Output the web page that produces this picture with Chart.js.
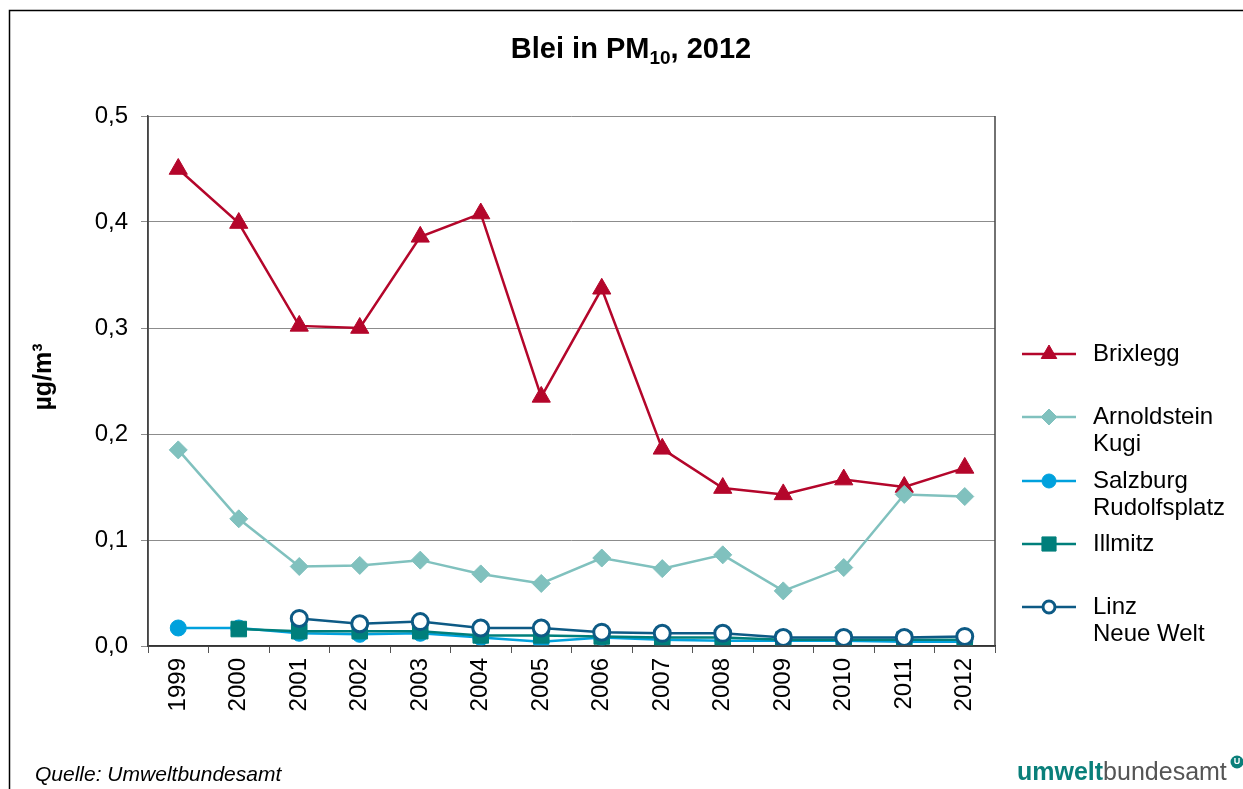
<!DOCTYPE html>
<html lang="de">
<head>
<meta charset="UTF-8">
<title>Blei in PM10, 2012</title>
<style>
  html, body { margin: 0; padding: 0; background: #fff; }
  #wrap { width: 1243px; height: 789px; }
</style>
</head>
<body>
<div id="wrap"><canvas id="chart" width="1243" height="789"></canvas></div>
<script src="https://cdn.jsdelivr.net/npm/chart.js"></script>
<script>
const years = ['1999','2000','2001','2002','2003','2004','2005','2006','2007','2008','2009','2010','2011','2012'];
const brixlegg   = [0.450, 0.399, 0.302, 0.300, 0.386, 0.408, 0.235, 0.337, 0.186, 0.149, 0.143, 0.157, 0.150, 0.168];
const arnoldstein = [0.185, 0.120, 0.075, 0.076, 0.081, 0.068, 0.059, 0.083, 0.073, 0.086, 0.052, 0.074, 0.143, 0.141];
const salzburg   = [0.017, 0.017, 0.012, 0.011, 0.012, 0.008, 0.004, 0.008, 0.006, 0.005, 0.005, 0.005, 0.004, 0.004];
const illmitz    = [null, 0.016, 0.014, 0.014, 0.014, 0.010, 0.010, 0.009, 0.008, 0.008, 0.006, 0.006, 0.006, 0.006];
const linz       = [null, null, 0.026, 0.021, 0.023, 0.017, 0.017, 0.013, 0.012, 0.012, 0.008, 0.008, 0.008, 0.009];
const yTicks = [0, 0.1, 0.2, 0.3, 0.4, 0.5];

const FONT = '"Liberation Sans", Arial, sans-serif';

const series = [
  { label: 'Brixlegg', lines: ['Brixlegg'], data: brixlegg, color: '#b4062b', style: 'triangle', r: 10.5, lr: 9, fill: '#b4062b' },
  { label: 'Arnoldstein Kugi', lines: ['Arnoldstein', 'Kugi'], data: arnoldstein, color: '#80c1be', style: 'rectRot', r: 9, lr: 8, fill: '#80c1be' },
  { label: 'Salzburg Rudolfsplatz', lines: ['Salzburg', 'Rudolfsplatz'], data: salzburg, color: '#00a1dd', style: 'circle', r: 8, lr: 7, fill: '#00a1dd' },
  { label: 'Illmitz', lines: ['Illmitz'], data: illmitz, color: '#007f7b', style: 'rect', r: 11, lr: 10, fill: '#007f7b' },
  { label: 'Linz Neue Welt', lines: ['Linz', 'Neue Welt'], data: linz, color: '#0d5a85', style: 'circle', r: 8, lr: 6, fill: '#ffffff' }
];

// legend rows: y of marker line
const legendY = [354, 417, 481, 544, 607];

const decorPlugin = {
  id: 'decor',
  beforeDraw(chart) {
    const ctx = chart.ctx;
    ctx.save();
    ctx.fillStyle = '#fff';
    ctx.fillRect(0, 0, chart.width, chart.height);
    ctx.restore();
  },
  afterDraw(chart) {
    const ctx = chart.ctx;
    const a = chart.chartArea;
    ctx.save();
    // outer frame
    ctx.strokeStyle = '#000';
    ctx.lineWidth = 1.5;
    ctx.beginPath();
    ctx.moveTo(9.5, 800);
    ctx.lineTo(9.5, 10.5);
    ctx.lineTo(1250, 10.5);
    ctx.stroke();

    // plot box
    ctx.strokeStyle = '#444';
    ctx.lineWidth = 1.5;
    ctx.beginPath();
    ctx.moveTo(a.left, a.top);
    ctx.lineTo(a.left, a.bottom);
    ctx.lineTo(a.right, a.bottom);
    ctx.lineTo(a.right, a.top);
    ctx.stroke();

    // title with subscript
    ctx.fillStyle = '#000';
    ctx.textBaseline = 'alphabetic';
    const p1 = 'Blei in PM', sub = '10', p2 = ', 2012';
    ctx.font = 'bold 29px ' + FONT;
    const w1 = ctx.measureText(p1).width, w3 = ctx.measureText(p2).width;
    ctx.font = 'bold 19px ' + FONT;
    const w2 = ctx.measureText(sub).width;
    let x = 631 - (w1 + w2 + w3) / 2;
    ctx.font = 'bold 29px ' + FONT;
    ctx.fillText(p1, x, 58);
    x += w1;
    ctx.font = 'bold 19px ' + FONT;
    ctx.fillText(sub, x, 64);
    x += w2;
    ctx.font = 'bold 29px ' + FONT;
    ctx.fillText(p2, x, 58);

    // y axis title
    ctx.save();
    ctx.translate(51, 377);
    ctx.rotate(-Math.PI / 2);
    ctx.font = 'bold 25px ' + FONT;
    ctx.textAlign = 'center';
    ctx.fillText('µg/m³', 0, 0);
    ctx.restore();

    // legend
    chart.data.datasets.forEach((ds, i) => {
      const y = legendY[i];
      ctx.strokeStyle = ds.borderColor;
      ctx.lineWidth = 2.5;
      ctx.beginPath();
      ctx.moveTo(1022, y);
      ctx.lineTo(1076, y);
      ctx.stroke();
      ctx.fillStyle = ds.pointBackgroundColor;
      ctx.strokeStyle = ds.pointBorderColor;
      ctx.lineWidth = ds.pointBorderWidth;
      const hollow = ds.pointBackgroundColor === '#ffffff';
      Chart.helpers.drawPoint(ctx, {
        pointStyle: ds.pointStyle,
        radius: series[i].lr,
        borderWidth: hollow ? 2.5 : ds.pointBorderWidth
      }, 1049, y);
      ctx.fillStyle = '#000';
      ctx.font = '24px ' + FONT;
      ctx.textBaseline = 'middle';
      series[i].lines.forEach((t, k) => ctx.fillText(t, 1093, y + k * 27));
    });

    // source
    ctx.fillStyle = '#000';
    ctx.textBaseline = 'alphabetic';
    ctx.font = 'italic 21px ' + FONT;
    ctx.fillText('Quelle: Umweltbundesamt', 35, 781);

    // logo
    ctx.font = 'bold 25px ' + FONT;
    ctx.fillStyle = '#0a7f7a';
    ctx.fillText('umwelt', 1017, 780);
    const lw = ctx.measureText('umwelt').width;
    ctx.fillStyle = '#555';
    ctx.font = '25px ' + FONT;
    ctx.fillText('bundesamt', 1017 + lw, 780);
    ctx.fillStyle = '#0a7f7a';
    ctx.beginPath();
    ctx.arc(1237, 762, 6.5, 0, Math.PI * 2);
    ctx.fill();
    ctx.fillStyle = '#fff';
    ctx.font = 'bold 9px ' + FONT;
    ctx.textAlign = 'center';
    ctx.textBaseline = 'middle';
    ctx.fillText('U', 1237, 762);
    ctx.restore();
  }
};

new Chart(document.getElementById('chart'), {
  type: 'line',
  data: {
    labels: years,
    datasets: series.map((s, i) => ({
      label: s.label,
      data: s.data,
      order: series.length - i,
      borderColor: s.color,
      backgroundColor: s.color,
      borderWidth: 2.5,
      pointStyle: s.style,
      pointRadius: s.r,
      pointHoverRadius: s.r,
      pointBackgroundColor: s.fill,
      pointBorderColor: s.color,
      pointBorderWidth: s.fill === '#ffffff' ? 3 : 1,
      tension: 0,
      spanGaps: false
    }))
  },
  options: {
    responsive: false,
    animation: false,
    layout: { padding: { left: 0, top: 116, right: 248, bottom: 0 } },
    plugins: {
      legend: { display: false },
      title: { display: false },
      tooltip: { enabled: false }
    },
    scales: {
      x: {
        offset: true,
        grid: { display: true, drawOnChartArea: false, offset: true, color: '#555', tickLength: 7 },
        border: { color: '#000', width: 1.5 },
        ticks: {
          color: '#000',
          font: { family: FONT, size: 24 },
          minRotation: 90,
          maxRotation: 90,
          padding: 5,
          autoSkip: false
        },
        afterFit(s) { s.height = 143; }
      },
      y: {
        min: 0,
        max: 0.5,
        afterBuildTicks(s) { s.ticks = yTicks.map(v => ({ value: v })); },
        grid: { color: '#8c8c8c', lineWidth: 1, tickLength: 7 },
        border: { color: '#444', width: 1.5 },
        ticks: {
          color: '#000',
          font: { family: FONT, size: 24 },
          padding: 13,
          callback: v => v.toFixed(1).replace('.', ',')
        },
        afterFit(s) { s.width = 148; }
      }
    }
  },
  plugins: [decorPlugin]
});
</script>
</body>
</html>
